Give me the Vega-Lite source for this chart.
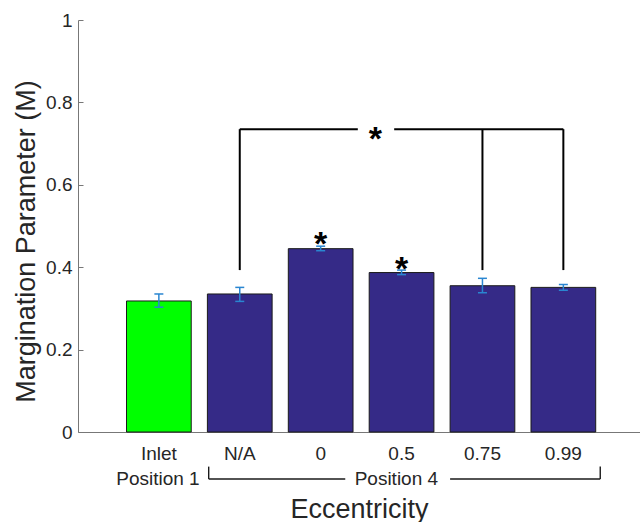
{
  "$schema": "https://vega.github.io/schema/vega-lite/v6.json",
  "width": 562,
  "height": 412,
  "autosize": {"type": "none"},
  "padding": {"left": 78, "top": 20, "right": 0, "bottom": 90},
  "background": "white",
  "config": {"view": {"stroke": null}, "font": "Liberation Sans"},
  "datasets": {
    "bars": [
      {"cat": "Inlet", "pos": "Position 1", "m": 0.318, "lo": 0.303, "hi": 0.335},
      {"cat": "N/A", "pos": "Position 4", "m": 0.335, "lo": 0.317, "hi": 0.351},
      {"cat": "0", "pos": "Position 4", "m": 0.445, "lo": 0.440, "hi": 0.451},
      {"cat": "0.5", "pos": "Position 4", "m": 0.387, "lo": 0.382, "hi": 0.393},
      {"cat": "0.75", "pos": "Position 4", "m": 0.355, "lo": 0.338, "hi": 0.373},
      {"cat": "0.99", "pos": "Position 4", "m": 0.351, "lo": 0.344, "hi": 0.358}
    ],
    "sig": [{"cat": "0", "y": 0.476}, {"cat": "0.5", "y": 0.416}],
    "vlines": [
      {"cat": "N/A", "y0": 0.393, "y1": 0.735},
      {"cat": "0.75", "y0": 0.393, "y1": 0.735},
      {"cat": "0.99", "y0": 0.393, "y1": 0.735}
    ]
  },
  "layer": [
    {
      "data": {"name": "bars"},
      "mark": {"type": "bar", "stroke": "#1a1a1a", "strokeWidth": 1},
      "encoding": {
        "x": {
          "field": "cat", "type": "nominal", "title": "Eccentricity", "sort": null,
          "scale": {"domain": ["Inlet", "N/A", "0", "0.5", "0.75", "0.99"], "paddingInner": 0.2, "paddingOuter": 0.5735, "align": 0.5227},
          "axis": {
            "labelAngle": 0, "ticks": false, "labelPadding": 12, "labelFontSize": 19, "labelColor": "#262626",
            "labelFont": "Liberation Sans", "domainColor": "#777", "domainWidth": 1,
            "titleFontSize": 27, "titleFontWeight": "normal", "titleFont": "Liberation Sans", "titleColor": "#262626",
            "titleX": 281, "titleY": 64
          }
        },
        "y": {
          "field": "m", "type": "quantitative", "title": "Margination Parameter (M)",
          "scale": {"domain": [0, 1], "nice": false},
          "axis": {
            "values": [0, 0.2, 0.4, 0.6, 0.8, 1], "format": "~g", "grid": false, "tickSize": -5, "tickColor": "#777",
            "domainColor": "#777", "labelPadding": 11, "labelFontSize": 19, "labelColor": "#262626", "labelFont": "Liberation Sans",
            "titleFontSize": 27, "titleFontWeight": "normal", "titleColor": "#262626", "titleFont": "Liberation Sans",
            "titleX": -38, "titleY": 221
          }
        },
        "color": {"field": "pos", "type": "nominal", "scale": {"domain": ["Position 1", "Position 4"], "range": ["#00FF00", "#352A87"]}, "legend": null}
      }
    },
    {
      "data": {"name": "bars"},
      "mark": {"type": "rule", "color": "#2a86d1", "strokeWidth": 1.5},
      "encoding": {
        "x": {"field": "cat", "type": "nominal", "title": "Eccentricity"},
        "y": {"field": "lo", "type": "quantitative", "title": "Margination Parameter (M)"},
        "y2": {"field": "hi"}
      }
    },
    {
      "data": {"name": "bars"},
      "mark": {"type": "tick", "color": "#2a86d1", "thickness": 1.5, "size": 9, "opacity": 1},
      "encoding": {
        "x": {"field": "cat", "type": "nominal", "title": "Eccentricity"},
        "y": {"field": "hi", "type": "quantitative", "title": "Margination Parameter (M)"}
      }
    },
    {
      "data": {"name": "bars"},
      "mark": {"type": "tick", "color": "#2a86d1", "thickness": 1.5, "size": 9, "opacity": 1},
      "encoding": {
        "x": {"field": "cat", "type": "nominal", "title": "Eccentricity"},
        "y": {"field": "lo", "type": "quantitative", "title": "Margination Parameter (M)"}
      }
    },
    {
      "data": {"name": "sig"},
      "mark": {"type": "text", "text": "*", "fontSize": 34, "fontWeight": "bold", "baseline": "middle", "dy": 9, "color": "black", "font": "Liberation Sans"},
      "encoding": {
        "x": {"field": "cat", "type": "nominal", "title": "Eccentricity"},
        "y": {"field": "y", "type": "quantitative", "title": "Margination Parameter (M)"}
      }
    },
    {
      "data": {"name": "vlines"},
      "mark": {"type": "rule", "color": "black", "strokeWidth": 2},
      "encoding": {
        "x": {"field": "cat", "type": "nominal", "title": "Eccentricity"},
        "y": {"field": "y0", "type": "quantitative", "title": "Margination Parameter (M)"},
        "y2": {"field": "y1"}
      }
    },
    {
      "data": {"values": [{"a": "N/A", "b": "0", "y": 0.735}]},
      "mark": {"type": "rule", "color": "black", "strokeWidth": 2},
      "encoding": {
        "x": {"field": "a", "type": "nominal", "title": "Eccentricity", "bandPosition": 0.5},
        "x2": {"field": "b", "bandPosition": 1.074},
        "y": {"field": "y", "type": "quantitative", "title": "Margination Parameter (M)"}
      }
    },
    {
      "data": {"values": [{"a": "0.5", "b": "0.99", "y": 0.735}]},
      "mark": {"type": "rule", "color": "black", "strokeWidth": 2},
      "encoding": {
        "x": {"field": "a", "type": "nominal", "title": "Eccentricity", "bandPosition": 0.386},
        "x2": {"field": "b", "bandPosition": 0.5},
        "y": {"field": "y", "type": "quantitative", "title": "Margination Parameter (M)"}
      }
    },
    {
      "data": {"values": [{"cat": "0.5", "y": 0.731}]},
      "mark": {"type": "text", "text": "*", "fontSize": 34, "fontWeight": "bold", "baseline": "middle", "dy": 9, "color": "black", "font": "Liberation Sans"},
      "encoding": {
        "x": {"field": "cat", "type": "nominal", "title": "Eccentricity", "bandPosition": 0.097},
        "y": {"field": "y", "type": "quantitative", "title": "Margination Parameter (M)"}
      }
    },
    {
      "data": {"values": [{"cat": "Inlet", "t": "Position 1", "y": -0.114}]},
      "mark": {"type": "text", "fontSize": 19, "baseline": "middle", "color": "#262626", "font": "Liberation Sans"},
      "encoding": {
        "x": {"field": "cat", "type": "nominal", "title": "Eccentricity", "bandPosition": 0.486},
        "y": {"field": "y", "type": "quantitative", "title": "Margination Parameter (M)"},
        "text": {"field": "t"}
      }
    },
    {
      "data": {"values": [{"cat": "0.5", "t": "Position 4", "y": -0.114}]},
      "mark": {"type": "text", "fontSize": 19, "baseline": "middle", "color": "#262626", "font": "Liberation Sans"},
      "encoding": {
        "x": {"field": "cat", "type": "nominal", "title": "Eccentricity", "bandPosition": 0.42},
        "y": {"field": "y", "type": "quantitative", "title": "Margination Parameter (M)"},
        "text": {"field": "t"}
      }
    },
    {
      "data": {"values": [{"a": "N/A", "b": "0", "y": -0.114}]},
      "mark": {"type": "rule", "color": "#1a1a1a", "strokeWidth": 1.4},
      "encoding": {
        "x": {"field": "a", "type": "nominal", "title": "Eccentricity", "bandPosition": 0.02},
        "x2": {"field": "b", "bandPosition": 0.88},
        "y": {"field": "y", "type": "quantitative", "title": "Margination Parameter (M)"}
      }
    },
    {
      "data": {"values": [{"a": "0.75", "b": "0.99", "y": -0.114}]},
      "mark": {"type": "rule", "color": "#1a1a1a", "strokeWidth": 1.4},
      "encoding": {
        "x": {"field": "a", "type": "nominal", "title": "Eccentricity", "bandPosition": 0},
        "x2": {"field": "b", "bandPosition": 1.07},
        "y": {"field": "y", "type": "quantitative", "title": "Margination Parameter (M)"}
      }
    },
    {
      "data": {"values": [{"cat": "N/A", "y0": -0.084, "y1": -0.114}]},
      "mark": {"type": "rule", "color": "#1a1a1a", "strokeWidth": 1.4},
      "encoding": {
        "x": {"field": "cat", "type": "nominal", "title": "Eccentricity", "bandPosition": 0.02},
        "y": {"field": "y0", "type": "quantitative", "title": "Margination Parameter (M)"},
        "y2": {"field": "y1"}
      }
    },
    {
      "data": {"values": [{"cat": "0.99", "y0": -0.084, "y1": -0.114}]},
      "mark": {"type": "rule", "color": "#1a1a1a", "strokeWidth": 1.4},
      "encoding": {
        "x": {"field": "cat", "type": "nominal", "title": "Eccentricity", "bandPosition": 1.07},
        "y": {"field": "y0", "type": "quantitative", "title": "Margination Parameter (M)"},
        "y2": {"field": "y1"}
      }
    }
  ]
}
